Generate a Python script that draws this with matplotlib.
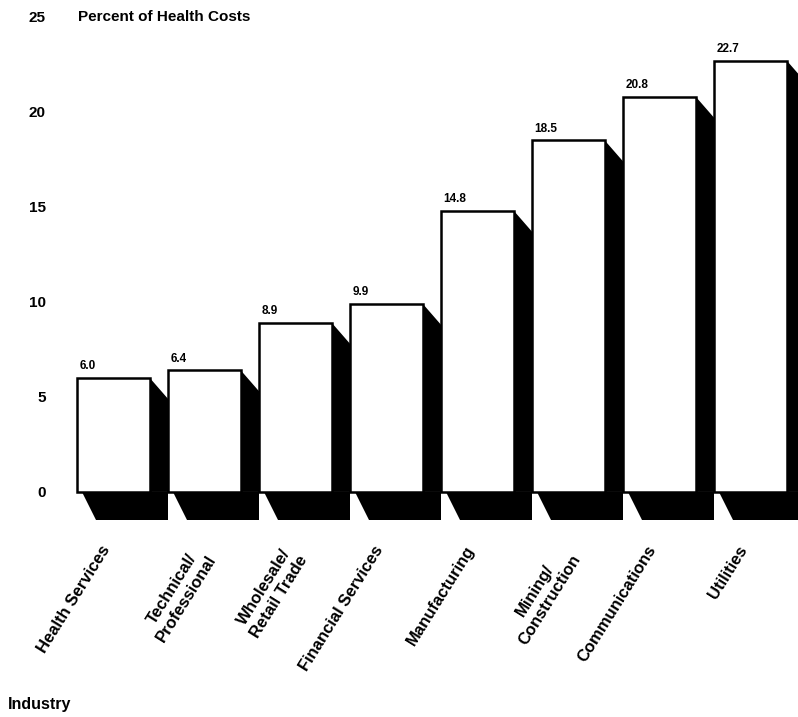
import matplotlib.pyplot as plt

plt.rcParams['font.family'] = ['Liberation Sans', 'DejaVu Sans']
plt.rcParams['font.weight'] = 'bold'

industries = ["Health Services", "Technical/\nProfessional", "Wholesale/\nRetail Trade",
              "Financial Services", "Manufacturing", "Mining/\nConstruction",
              "Communications", "Utilities"]
pct_costs = [6.0, 6.4, 8.9, 9.9, 14.8, 18.5, 20.8, 22.7]
value_labels = ["6.0", "6.4", "8.9", "9.9", "14.8", "18.5", "20.8", "22.7"]
y_ticks = [0, 5, 10, 15, 20, 25]


def plot_costs():
    fig = plt.figure(figsize=(7.98, 7.17), dpi=100)
    ax = fig.add_axes([75 / 798, 0.272, 1 - 75 / 798, 0.7099])

    xs = list(range(len(pct_costs)))
    # side shadows and floor shadows
    for x, h in zip(xs, pct_costs):
        ax.fill([x + 0.4, x + 0.6, x + 0.6, x + 0.4], [h, h - 1.1, 0, 0],
                color="black", lw=0, zorder=1)
        ax.fill([x - 0.35, x + 0.6, x + 0.6, x - 0.19], [0, 0, -1.45, -1.45],
                color="black", lw=0, zorder=1)

    ax.bar(xs, pct_costs, width=0.8, color="white", edgecolor="black",
           linewidth=1.8, zorder=2)

    for x, h, lab in zip(xs, pct_costs, value_labels):
        ax.text(x - 0.37, h + 0.3, lab, ha="left", va="bottom", fontsize=8.5,
                fontweight="bold")

    for x, name in zip(xs, industries):
        ax.text(x - 0.14, -2.7, name, rotation=58, rotation_mode="anchor",
                ha="right", va="top", multialignment="center", fontsize=12,
                fontweight="bold", clip_on=False)

    ax.set_xlim(-0.422, 7.523)
    ax.set_ylim(-1.58, 25.21)
    ax.set_yticks(y_ticks)
    ax.set_yticklabels([str(t) for t in y_ticks], fontsize=11, fontweight="bold")
    ax.tick_params(axis="y", length=0, pad=21)
    ax.set_xticks([])
    for s in ax.spines.values():
        s.set_visible(False)

    fig.text(78 / 798, 1 - 17 / 717, "Percent of Health Costs", va="center",
             fontsize=11, fontweight="bold")
    fig.text(8 / 798, 1 - 705 / 717, "Industry", va="center", fontsize=11.5,
             fontweight="bold")

    fig.savefig("out.png", dpi=100)


if __name__ == "__main__":
    plot_costs()
